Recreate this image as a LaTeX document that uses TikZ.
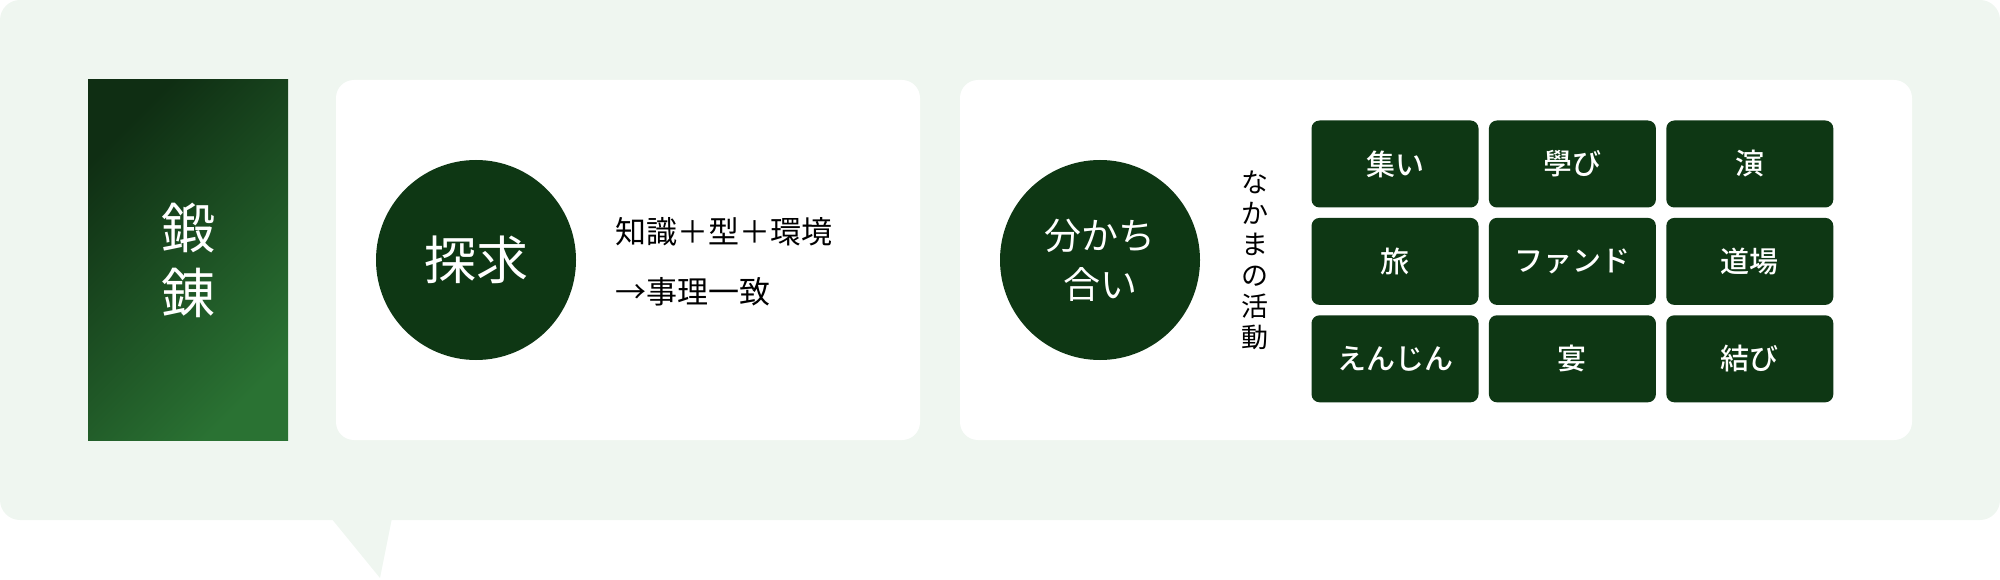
\documentclass[tikz,border=0pt]{standalone}
\usepackage{fontspec}
\setmainfont{Noto Sans CJK JP}
\newfontfamily\mediumfont{Noto Sans CJK JP Medium}
\usetikzlibrary{positioning}

\definecolor{pine}{HTML}{0E3714}
\definecolor{pinedark}{HTML}{0F2E13}
\definecolor{pinelight}{HTML}{2A7233}
\definecolor{mint}{HTML}{EFF6F0}

\tikzstyle{panel} = [rectangle, rounded corners=18pt, fill = white, minimum height = 360pt, inner sep=0pt]
\tikzstyle{disc} = [circle, fill = pine, minimum size = 200pt, inner sep=0pt, text = white, align=center]
\tikzstyle{cell} = [rectangle, rounded corners=8pt, fill = pine, minimum width = 167pt, minimum height = 87pt, inner sep=0pt, text = white, font=\mediumfont\fontsize{29}{34}\selectfont]
\tikzstyle{caption} = [anchor=west, inner sep=0pt, font=\fontsize{31}{36}\selectfont]

\begin{document}
\begin{tikzpicture}[x=1pt, y=-1pt, node distance = 10pt]
    \useasboundingbox (0,0) rectangle (2000,580);
    % speech bubble
    \fill[mint, rounded corners=20pt] (0,0) rectangle (2000,520);
    \fill[mint] (331,518) -- (380,578) -- (392,518) -- cycle;

    \node(tanren)[rectangle, top color = pinedark, bottom color = pinelight, shading angle=45, minimum width = 200pt, minimum height = 360pt, text = white, align=center, font=\fontsize{54}{65}\selectfont] at (188,260) {鍛\\錬};

    \node(panel_a)[panel, minimum width = 584pt] at (628,260) {};
    \node(tankyu)[disc, font=\fontsize{52}{60}\selectfont] at (476,260) {探求};
    \node(chishiki)[caption] at (615,232) {知識＋型＋環境};
    \node(jiri)[caption] at (615,292) {→事理一致};

    \node(panel_b)[panel, minimum width = 952pt] at (1436,260) {};
    \node(wakachi)[disc, font=\fontsize{37}{49}\selectfont] at (1100,260) {分かち\\合い};
    \node(nakama)[align=center, inner sep=0pt, font=\fontsize{27}{31}\selectfont] at (1255,260) {な\\か\\ま\\の\\活\\動};

    \node(tsudoi)[cell] at (1395,164) {集い};
    \node(manabi)[cell, right = of tsudoi] {學び};
    \node(en)[cell, right = of manabi] {演};
    \node(tabi)[cell, below = of tsudoi] {旅};
    \node(fund)[cell, right = of tabi] {ファンド};
    \node(dojo)[cell, right = of fund] {道場};
    \node(enjin)[cell, below = of tabi] {えんじん};
    \node(utage)[cell, right = of enjin] {宴};
    \node(musubi)[cell, right = of utage] {結び};
\end{tikzpicture}
\end{document}
